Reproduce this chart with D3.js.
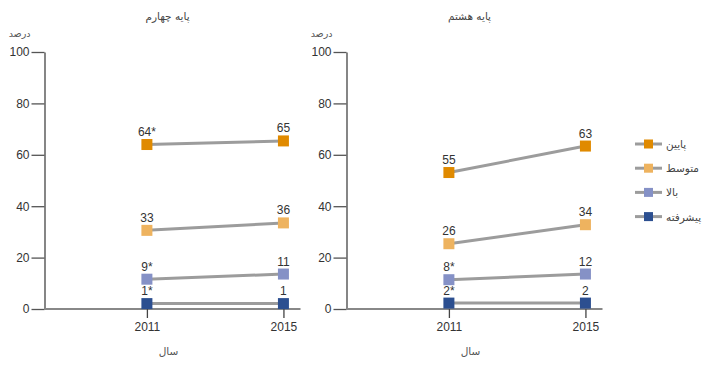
<!DOCTYPE html>
<html>
<head>
<meta charset="utf-8">
<script src="https://d3js.org/d3.v7.min.js"></script>
<style>
body { margin: 0; background: #fff; }
text { font-family: "Liberation Sans", Arial, sans-serif; }
.fa { font-family: "DejaVu Sans", sans-serif; }
</style>
</head>
<body>
<div id="chart"></div>
<script>
var years = [2011, 2015];
var levels = ["پایین", "متوسط", "بالا", "پیشرفته"];
var panelTitles = ["پایه چهارم", "پایه هشتم"];
var yTicks = [0, 20, 40, 60, 80, 100];

// plotted position of each marker
var grade4Values = [[64, 65.4], [30.6, 33.5], [11.6, 13.6], [2.1, 2.1]];
var grade4Labels = [["64*", "65"], ["33", "36"], ["9*", "11"], ["1*", "1"]];
var grade8Values = [[53.1, 63.4], [25.4, 32.8], [11.4, 13.6], [2.3, 2.3]];
var grade8Labels = [["55", "63"], ["26", "34"], ["8*", "12"], ["2*", "2"]];

var colors = ["#e08a00", "#eeb35f", "#8591c6", "#2c4f90"];

window.onload = function() {
	main();
};

function main() {
	var svg = d3.select("#chart")
		.append("svg")
		.attr("width", 716)
		.attr("height", 367);

	var y = d3.scaleLinear().domain([0, 100]).range([309, 52]);
	var x = d3.scaleLinear().domain([2008, 2015.5]).range([0, 256]);

	draw_panel(svg, 44.5, panelTitles[0], grade4Values, grade4Labels, x, y);
	draw_panel(svg, 346.5, panelTitles[1], grade8Values, grade8Labels, x, y);
	draw_legend(svg);
}

function draw_panel(svg, left, title, values, labels, x, y) {
	var g = svg.append("g")
		.attr("transform", "translate(" + left + ",0)");

	g.append("text")
		.attr("class", "fa")
		.attr("x", 123)
		.attr("y", 20)
		.attr("text-anchor", "middle")
		.style("font-size", "10.5px")
		.style("fill", "#444")
		.text(title);

	g.append("text")
		.attr("class", "fa")
		.attr("x", -14)
		.attr("y", 37)
		.attr("text-anchor", "end")
		.style("font-size", "9.5px")
		.style("fill", "#555")
		.text("درصد");

	var yAxis = g.append("g")
		.call(d3.axisLeft(y).tickValues(yTicks).tickSize(13).tickPadding(2).tickSizeOuter(0));
	yAxis.select(".domain").attr("stroke", "#444").attr("stroke-width", 1.3);
	yAxis.selectAll(".tick line").attr("stroke", "#555").attr("stroke-width", 1.3);
	yAxis.selectAll(".tick text")
		.style("font-size", "12px")
		.style("fill", "#333")
		.style("font-family", "'Liberation Sans', Arial, sans-serif");

	// baseline
	g.append("line")
		.attr("x1", 0)
		.attr("x2", x.range()[1])
		.attr("y1", y(0))
		.attr("y2", y(0))
		.attr("stroke", "#888")
		.attr("stroke-width", 2);

	var xAxis = g.append("g")
		.attr("transform", "translate(0," + y(0) + ")")
		.call(d3.axisBottom(x).tickValues(years).tickFormat(d3.format("d")).tickSize(9).tickPadding(4));
	xAxis.select(".domain").remove();
	xAxis.selectAll(".tick line").attr("stroke", "#444").attr("stroke-width", 1.3);
	xAxis.selectAll(".tick text")
		.style("font-size", "12px")
		.style("fill", "#333")
		.style("font-family", "'Liberation Sans', Arial, sans-serif");

	g.append("text")
		.attr("class", "fa")
		.attr("x", 124)
		.attr("y", 355)
		.attr("text-anchor", "middle")
		.style("font-size", "10.5px")
		.style("fill", "#555")
		.text("سال");

	var line = d3.line()
		.x(function(d, i) { return x(years[i]); })
		.y(function(d) { return y(d); });

	g.selectAll(".series-line")
		.data(values)
		.enter()
		.append("path")
		.attr("class", "series-line")
		.attr("d", line)
		.attr("fill", "none")
		.attr("stroke", "#9c9c9c")
		.attr("stroke-width", 3);

	values.forEach(function(vals, s) {
		var pts = g.selectAll(".pt" + s)
			.data(vals)
			.enter()
			.append("g")
			.attr("class", "pt" + s)
			.attr("transform", function(d, i) {
				return "translate(" + x(years[i]) + "," + y(d) + ")";
			});
		pts.append("rect")
			.attr("x", -5.5)
			.attr("y", -5.5)
			.attr("width", 11)
			.attr("height", 11)
			.attr("fill", colors[s]);
		pts.append("text")
			.attr("y", -8.5)
			.attr("text-anchor", "middle")
			.style("font-size", "12px")
			.style("fill", "#333")
			.text(function(d, i) { return labels[s][i]; });
	});
}

function draw_legend(svg) {
	var lg = svg.append("g")
		.attr("transform", "translate(635,144)");

	var rows = lg.selectAll(".legend-row")
		.data(levels)
		.enter()
		.append("g")
		.attr("class", "legend-row")
		.attr("transform", function(d, i) { return "translate(0," + (i * 24.2) + ")"; });

	rows.append("line")
		.attr("x1", 0)
		.attr("x2", 27)
		.attr("stroke", "#9c9c9c")
		.attr("stroke-width", 3);

	rows.append("rect")
		.attr("x", 9)
		.attr("y", -4.5)
		.attr("width", 9)
		.attr("height", 9)
		.attr("fill", function(d, i) { return colors[i]; });

	rows.append("text")
		.attr("class", "fa")
		.attr("x", 31)
		.attr("y", 4)
		.style("font-size", "10.5px")
		.style("fill", "#444")
		.text(function(d) { return d; });
}
</script>
</body>
</html>
